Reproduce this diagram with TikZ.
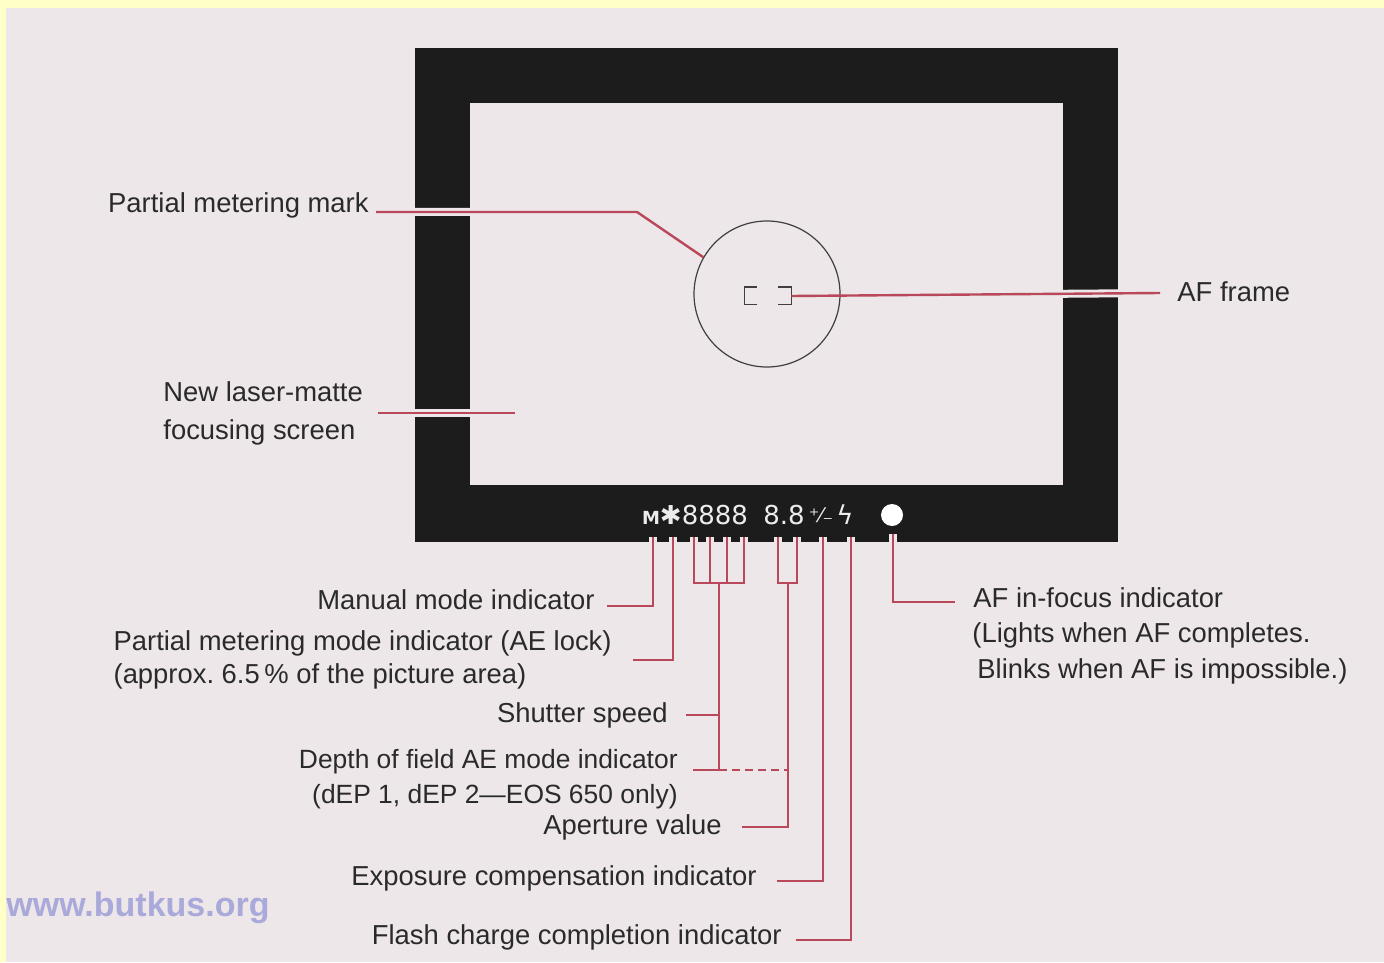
\documentclass[tikz,border=0pt]{standalone}
\usepackage{fontspec}
\setmainfont{Liberation Sans}
\newfontfamily\symfont{DejaVu Sans}
\usepackage{tikz}
\usetikzlibrary{positioning,calc}
\usepackage{xcolor}
\definecolor{paper}{HTML}{FFFFC8}
\definecolor{page}{HTML}{EDE7E9}
\definecolor{finder}{HTML}{1C1C1C}
\definecolor{leadred}{HTML}{B9485A}
\definecolor{ink}{HTML}{2A2A2A}
\definecolor{webmark}{HTML}{A9A9DA}
\definecolor{lcd}{HTML}{ECECEC}
\frenchspacing

% all leader lines, drawn once as halo and once in red
\newcommand{\leaderlines}[1]{%
  \draw[#1] ([xshift=3.5pt,yshift=-3.5pt]lpmark.east) -- (pmbend) -- (spot.150);
  \draw[#1] ([xshift=7.5pt]lscreen.east) -- (scrend);
  \draw[#1] (afbox.east) -- ([xshift=-8.5pt,yshift=-0.5pt]laf.west);
  \draw[#1] (tapM) |- ([xshift=6pt,yshift=-3pt]lmanual.east);
  \draw[#1] (tapP) |- ([xshift=10.5pt]lpartial.east);
  \draw[#1] (tapS1) |- (sbar) -| (tapS4);
  \draw[#1] (tapS2) -- (tapS2 |- sbar);
  \draw[#1] (tapS3) -- (tapS3 |- sbar);
  \draw[#1] (sbar) -- (dofbend) -- ([xshift=7.5pt]dofbend -| ldof.east);
  \draw[#1] (shbend) -- ([xshift=9pt]shbend -| lshutter.east);
  \draw[#1,dash pattern=on 4pt off 2.5pt] (dofbend) -- (dofbend -| abar);
  \draw[#1] (tapA1) |- (abar) -| (tapA2);
  \draw[#1] (abar) |- ([xshift=10pt]lap.east);
  \draw[#1] (tapE) |- ([xshift=10pt,yshift=-1.5pt]lexpo.east);
  \draw[#1] (tapF) |- ([xshift=7pt,yshift=-1.5pt]lflash.east);
  \draw[#1] (tapD) |- ([xshift=-9pt,yshift=-2pt]lafin.west);
}

\begin{document}
\begin{tikzpicture}[
    x=0.5pt,y=-0.5pt,
    lbl/.style={inner sep=0,text=ink,font=\fontsize{13.7}{17.5}\selectfont},
    ind/.style={inner sep=0,text=lcd,font=\symfont\fontsize{13}{13}\selectfont},
    halo/.style={draw=page,line width=4pt},
    lead/.style={draw=leadred,line width=1.2pt},
    ring/.style={draw=ink!90,line width=0.6pt}
]
% paper and viewfinder
\fill[paper] (0,0) rectangle (1384,962);
\fill[page] (6,8) rectangle (1384,962);
\fill[finder] (415,48) rectangle (1118,542);
\fill[page] (470,103) rectangle (1063,485);

% focusing screen marks
\node[circle,minimum size=73pt,inner sep=0] (spot) at (767,294) {};
\node[minimum width=23pt,minimum height=8.5pt,inner sep=0] (afbox) at (768,296) {};

% viewfinder display
\node[ind] (indA) at (695,515) {{\bfseries\fontsize{9}{9}\selectfont M}✱8888};
\node[ind] (indB) at (784,515) {8.8};
\node[ind,font=\symfont\fontsize{10}{10}\selectfont] (indC) at (821,515) {⁺⁄₋};
\node[ind] (indD) at (845,515) {ϟ};
\node[circle,fill=white,minimum size=11pt,inner sep=0] (inddot) at (892,515) {};

% labels
\node[lbl,anchor=east] (lpmark) at (369,205) {Partial metering mark};
\node[lbl,anchor=west,align=left,font=\fontsize{13.7}{19}\selectfont] (lscreen) at (163,413) {New laser-matte\\focusing screen};
\node[lbl,anchor=west] (laf) at (1177,292) {AF frame};
\node[lbl,anchor=east] (lmanual) at (595,600) {Manual mode indicator};
\node[lbl,anchor=east,align=left,font=\fontsize{13.7}{16.5}\selectfont] (lpartial) at (612,660) {Partial metering mode indicator (AE lock)\\(approx. 6.5\,\% of the picture area)};
\node[lbl,anchor=east] (lshutter) at (668,715) {Shutter speed};
\node[lbl,anchor=east,align=right,font=\fontsize{13.2}{17.5}\selectfont] (ldof) at (678,779) {Depth of field AE mode indicator\\(dEP 1, dEP 2---EOS 650 only)};
\node[lbl,anchor=east] (lap) at (722,827) {Aperture value};
\node[lbl,anchor=east] (lexpo) at (757,878) {Exposure compensation indicator};
\node[lbl,anchor=east] (lflash) at (782,937) {Flash charge completion indicator};
\node[lbl,anchor=west] (lafin) at (973,598) {AF in-focus indicator};
\node[lbl,anchor=west,align=left,font=\fontsize{13.7}{18}\selectfont] (lafnote) at (972,653) {(Lights when AF completes.\\\hspace*{2.5pt}Blinks when AF is impossible.)};
\node[inner sep=0,anchor=west,text=webmark,font=\fontsize{17}{17}\selectfont\bfseries] (web) at (6,908) {www.butkus.org};

% leader points
\coordinate (pmbend) at (637,212);
\coordinate (scrend) at (515,413);
\coordinate (tapM) at (653,537);
\coordinate (tapP) at (673,537);
\coordinate (tapS1) at (694,537);
\coordinate (tapS2) at (710,537);
\coordinate (tapS3) at (727,537);
\coordinate (tapS4) at (744,537);
\coordinate (sbar) at (719,583);
\coordinate (shbend) at (719,715);
\coordinate (dofbend) at (719,770);
\coordinate (tapA1) at (778,537);
\coordinate (tapA2) at (797,537);
\coordinate (abar) at (788,583);
\coordinate (tapE) at (823,537);
\coordinate (tapF) at (851,537);
\coordinate (tapD) at (893,534);

\leaderlines{halo}
\draw[ring] (spot.center) circle (36.5pt);
\draw[ring] ([xshift=6pt]afbox.north west) -- (afbox.north west) -- (afbox.south west) -- ([xshift=6pt]afbox.south west);
\draw[ring] ([xshift=-6.5pt]afbox.north east) -- (afbox.north east) -- (afbox.south east) -- ([xshift=-6.5pt]afbox.south east);
\leaderlines{lead}
\end{tikzpicture}
\end{document}
